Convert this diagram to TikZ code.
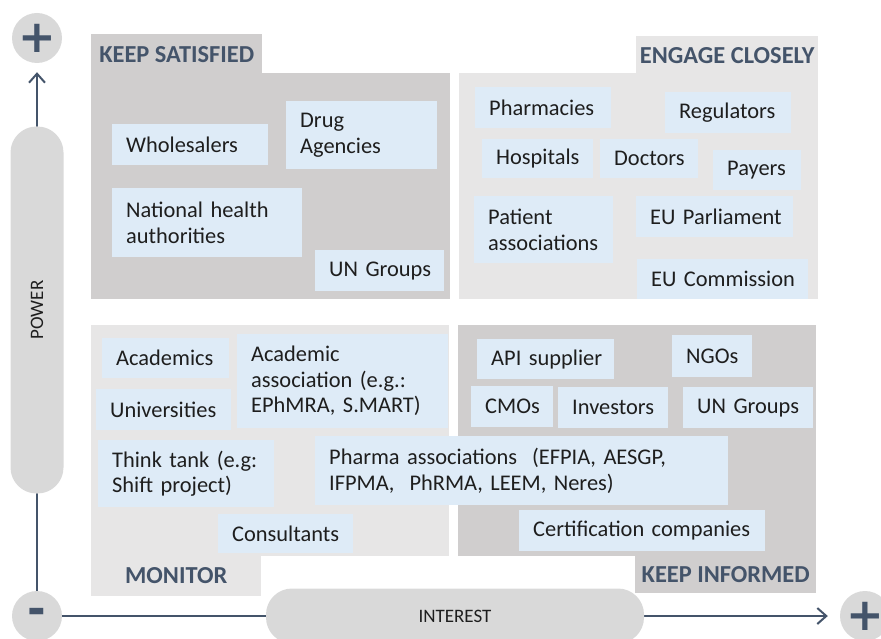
\documentclass[tikz,border=0pt]{standalone}
\usepackage{fontspec}
\setmainfont{Carlito}
\newfontfamily\signfont{DejaVu Sans}
\usetikzlibrary{arrows.meta}
\definecolor{satgray}{HTML}{D0CECE}
\definecolor{enggray}{HTML}{E7E6E6}
\definecolor{pillgray}{HTML}{D9D9D9}
\definecolor{itemblue}{HTML}{DEEBF7}
\definecolor{slate}{HTML}{44546A}
\definecolor{ink}{HTML}{1E1E1E}

\begin{document}
\begin{tikzpicture}[x=1pt, y=-1pt,
  quad/.style={rectangle, anchor=north west, inner sep=0pt},
  tab/.style={rectangle, anchor=north west, inner sep=0pt, text=slate, font=\fontsize{24.4}{26}\selectfont\bfseries},
  item/.style={rectangle, anchor=north west, fill=itemblue, inner xsep=14pt, inner ysep=0pt, text=ink,
    font=\fontsize{22.4}{25.5}\selectfont,
    execute at begin node={\rightskip=0pt plus 1fil minus 40pt\relax\hyphenpenalty=10000\exhyphenpenalty=10000\relax}},
  sign/.style={circle, fill=pillgray, minimum size=50pt, inner sep=0pt, text=slate, font=\signfont\bfseries\fontsize{45}{45}\selectfont},
  pill/.style={rectangle, rounded corners=26pt, fill=pillgray, text=ink, font=\fontsize{19}{19}\selectfont},
  axis/.style={draw=slate, line width=2pt, -{Straight Barb[length=9pt, width=16pt]}},
]
\useasboundingbox (0,0) rectangle (881,639);

% quadrants
\node[quad, fill=satgray, minimum width=359pt, minimum height=226pt] (qsat) at (91,73) {};
\node[tab, fill=satgray, minimum width=171pt, minimum height=40pt] (tsat) at (91,34) {KEEP SATISFIED};
\node[quad, fill=enggray, minimum width=359pt, minimum height=226pt] (qeng) at (459,73) {};
\node[tab, fill=enggray, minimum width=182pt, minimum height=38pt] (teng) at (636,36) {ENGAGE CLOSELY};
\node[quad, fill=enggray, minimum width=358pt, minimum height=231pt] (qmon) at (91,325) {};
\node[tab, fill=enggray, minimum width=170pt, minimum height=41pt] (tmon) at (91,555) {MONITOR};
\node[quad, fill=satgray, minimum width=358pt, minimum height=231pt] (qinf) at (458,325) {};
\node[tab, fill=satgray, minimum width=181pt, minimum height=38pt] (tinf) at (635,555) {KEEP INFORMED};

% keep satisfied
\node[item, text width=128pt, minimum height=41pt] (whole) at (112,124) {Wholesalers};
\node[item, text width=123pt, minimum height=68pt] (drug) at (286,101) {Drug\\Agencies};
\node[item, text width=162pt, minimum height=69pt] (natauth) at (112,188) {National health\\authorities};
\node[item, text width=101pt, minimum height=41pt] (ungroups) at (315,250) {UN Groups};

% engage closely
\node[item, text width=108pt, minimum height=41pt] (pharm) at (475,87) {Pharmacies};
\node[item, text width=98pt, minimum height=41pt] (regul) at (665,92) {Regulators};
\node[item, text width=83pt, minimum height=39pt] (hosp) at (482,139) {Hospitals};
\node[item, text width=70pt, minimum height=39pt] (doct) at (600,139) {Doctors};
\node[item, text width=60pt, minimum height=40pt] (payers) at (713,150) {Payers};
\node[item, text width=111pt, minimum height=67pt] (patient) at (474,196) {Patient\\associations};
\node[item, text width=129pt, minimum height=41pt] (eupar) at (636,196) {EU Parliament};
\node[item, text width=143pt, minimum height=40pt] (eucom) at (637,259) {EU Commission};

% monitor
\node[item, text width=99pt, minimum height=40pt] (acad) at (102,338) {Academics};
\node[item, text width=107pt, minimum height=41pt] (univ) at (96,389) {Universities};
\node[item, text width=183pt, minimum height=94pt] (acadassoc) at (237,334) {Academic\\association (e.g.:\\EPhMRA, S.MART)};
\node[item, text width=148pt, minimum height=67pt] (think) at (98,440) {Think tank (e.g:\\Shift project)};
\node[item, text width=107pt, minimum height=39pt] (consult) at (218,514) {Consultants};

% keep informed
\node[item, text width=109pt, minimum height=40pt] (api) at (477,339) {API supplier};
\node[item, text width=52pt, minimum height=42pt] (ngos) at (672,335) {NGOs};
\node[item, text width=54pt, minimum height=41pt] (cmos) at (471,386) {CMOs};
\node[item, text width=82pt, minimum height=41pt] (invest) at (558,387) {Investors};
\node[item, text width=102pt, minimum height=41pt] (ungroups2) at (683,387) {UN Groups};
\node[item, text width=218pt, minimum height=41pt] (certif) at (519,510) {Certification companies};
\node[item, text width=385pt, minimum height=69pt] (pharma) at (315,436) {Pharma associations\ \ (EFPIA, AESGP,\\IFPMA,\ \ PhRMA, LEEM, Neres)};

% axes
\node[sign] (plusy) at (37,38) {+};
\node[sign] (minus) at (37,616) {-};
\node[sign] (plusx) at (865,616) {+};
\draw[axis, shorten >=9pt] (minus) -- (plusy);
\draw[axis, shorten >=12pt] (minus) -- (plusx);
\node[pill, rotate=90, minimum width=367pt, minimum height=53pt] (power) at (37,310) {POWER};
\node[pill, minimum width=378pt, minimum height=55pt] (interest) at (455,616) {INTEREST};
\end{tikzpicture}
\end{document}
